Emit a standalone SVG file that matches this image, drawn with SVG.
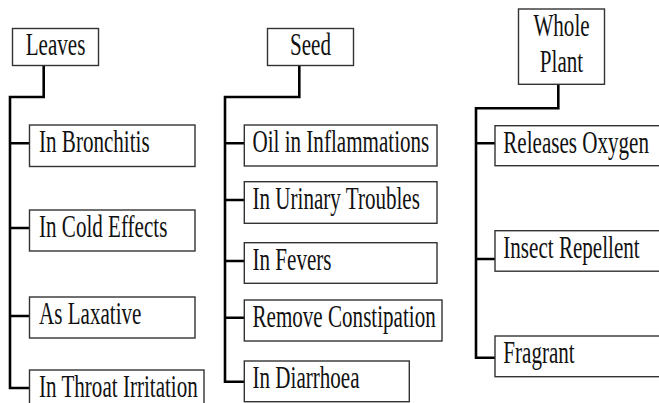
<svg xmlns="http://www.w3.org/2000/svg" width="659" height="403" viewBox="0 0 659 403">
<style>
.box{fill:#fff;stroke:#333;stroke-width:1.4}
.lbl{font-family:"Liberation Serif","Times New Roman",serif;font-size:31px;fill:#111}
.mid{text-anchor:middle}
.con{fill:none;stroke:#000;stroke-width:2.6;stroke-linejoin:miter}
</style>
<rect width="659" height="403" fill="#fff"/>
<g id="connectors">
<path class="con" d="M43.7,65 V97 H10 V388 H29.5 M10,143.3 H29.5 M10,228 H29.5 M10,316 H29.5"/>
<path class="con" d="M299.3,65 V97 H225 V381.7 H244.3 M225,143.3 H244.3 M225,200 H244.3 M225,261 H244.3 M225,317.7 H244.3"/>
<path class="con" d="M558.3,84.3 V108.3 H476 V357.7 H495 M476,143.3 H495 M476,259 H495"/>
</g>
<g id="leaves"><rect class="box" x="12.5" y="28.5" width="86" height="37"/><text class="lbl mid" transform="translate(55.5,55) scale(0.68,1)">Leaves</text></g>
<g id="bronchitis"><rect class="box" x="29.5" y="125" width="165.5" height="41.5"/><text class="lbl" transform="translate(39,152) scale(0.68,1)">In Bronchitis</text></g>
<g id="cold"><rect class="box" x="29.5" y="210" width="165.5" height="41"/><text class="lbl" transform="translate(39,237) scale(0.68,1)">In Cold Effects</text></g>
<g id="laxative"><rect class="box" x="29.5" y="297" width="165.5" height="41"/><text class="lbl" transform="translate(39,324) scale(0.68,1)">As Laxative</text></g>
<g id="throat"><rect class="box" x="29.5" y="370" width="174.5" height="41"/><text class="lbl" transform="translate(39,397) scale(0.68,1)">In Throat Irritation</text></g>
<g id="seed"><rect class="box" x="267.5" y="28.5" width="86" height="37"/><text class="lbl mid" transform="translate(310.5,55) scale(0.68,1)">Seed</text></g>
<g id="oil"><rect class="box" x="244.3" y="125" width="192.7" height="41"/><text class="lbl" transform="translate(252.5,152) scale(0.68,1)">Oil in Inflammations</text></g>
<g id="urinary"><rect class="box" x="244.3" y="181.7" width="192.7" height="41.6"/><text class="lbl" transform="translate(252.5,209) scale(0.68,1)">In Urinary Troubles</text></g>
<g id="fevers"><rect class="box" x="244.3" y="242.7" width="192.7" height="40.6"/><text class="lbl" transform="translate(252.5,270) scale(0.68,1)">In Fevers</text></g>
<g id="constipation"><rect class="box" x="244.3" y="300" width="197.7" height="41"/><text class="lbl" transform="translate(252.5,327) scale(0.68,1)">Remove Constipation</text></g>
<g id="diarrhoea"><rect class="box" x="244.3" y="361" width="165" height="40.7"/><text class="lbl" transform="translate(252.5,388) scale(0.68,1)">In Diarrhoea</text></g>
<g id="wholeplant"><rect class="box" x="518.5" y="9" width="86" height="75.3"/><text class="lbl mid" transform="translate(561.5,36) scale(0.68,1)">Whole</text><text class="lbl mid" transform="translate(561.5,72) scale(0.68,1)">Plant</text></g>
<g id="oxygen"><rect class="box" x="495" y="125.7" width="175" height="40"/><text class="lbl" transform="translate(503.3,153) scale(0.68,1)">Releases Oxygen</text></g>
<g id="insect"><rect class="box" x="495" y="230.7" width="175" height="40.5"/><text class="lbl" transform="translate(503.3,258) scale(0.68,1)">Insect Repellent</text></g>
<g id="fragrant"><rect class="box" x="495" y="336" width="175" height="40.7"/><text class="lbl" transform="translate(503.3,363) scale(0.68,1)">Fragrant</text></g>
</svg>
